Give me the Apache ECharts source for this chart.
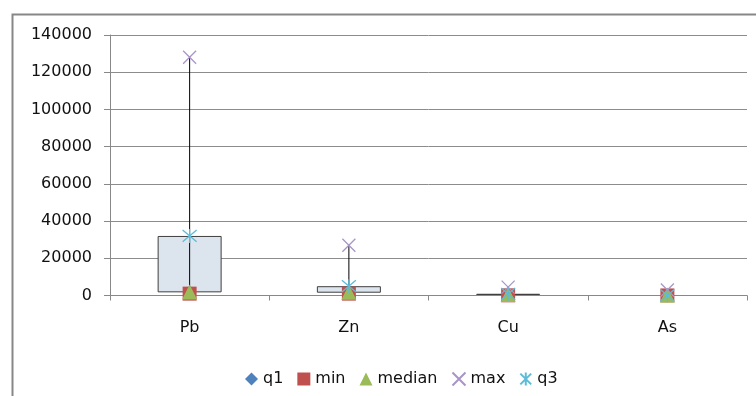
<!DOCTYPE html>
<html>
<head>
<meta charset="utf-8">
<script src="https://cdn.jsdelivr.net/npm/echarts@6/dist/echarts.min.js"></script>
<style>html,body{margin:0;padding:0;background:#fff;}#c{width:756px;height:396px;}</style>
</head>
<body>
<div id="c"></div>
<script>
var categories = ['Pb', 'Zn', 'Cu', 'As'];
var q1 = [1700, 1500, 300, 100];
var minV = [1000, 1000, 100, 50];
var median = [1900, 1800, 500, 300];
var maxV = [128000, 27000, 4500, 3000];
var q3 = [32000, 5000, 900, 100];
var yTicks = [0, 20000, 40000, 60000, 80000, 100000, 120000, 140000];

var FONT = 'DejaVu Sans';
var boxHeight = q3.map(function (v, i) { var h = v - q1[i]; return h > 0 ? h : '-'; });
var whisker = categories.map(function (c, i) { return [i, minV[i], maxV[i]]; });

var X_PATH = 'path://M0,0L10,10M10,0L0,10';
var STAR_PATH = 'path://M0,0L10,10M10,0L0,10M5,-1L5,11';

var chart = echarts.init(document.getElementById('c'), null, {renderer: 'canvas'});
chart.setOption({
  animation: false,
  backgroundColor: '#fff',
  graphic: [{
    type: 'rect', left: 10, top: 12, z: 100,
    shape: {x: 0, y: 0, width: 770, height: 420},
    style: {fill: 'none', stroke: '#878787', lineWidth: 2}
  }],
  grid: {left: 110, right: 9, top: 35, bottom: 100.5, containLabel: false},
  legend: {
    left: 240, top: 366,
    itemWidth: 13, itemHeight: 13, itemGap: 14,
    textStyle: {fontFamily: FONT, fontSize: 16, color: '#111'},
    data: ['q1', 'min', 'median', 'max', 'q3']
  },
  xAxis: {
    type: 'category', data: categories, boundaryGap: true,
    axisLine: {lineStyle: {color: '#888', width: 1}},
    axisTick: {show: true, length: 5, lineStyle: {color: '#888'}},
    axisLabel: {fontFamily: FONT, fontSize: 16, color: '#111', margin: 24}
  },
  yAxis: {
    type: 'value', min: 0, max: 140000, interval: 20000,
    axisLine: {show: true, lineStyle: {color: '#888', width: 1}},
    axisTick: {show: true, length: 6, lineStyle: {color: '#888'}},
    splitLine: {show: true, lineStyle: {color: '#8c8c8c', width: 1}},
    axisLabel: {fontFamily: FONT, fontSize: 16, color: '#111', margin: 18,
      formatter: function (v) { return yTicks.indexOf(v) >= 0 ? String(v) : ''; }}
  },
  series: [
    {name: 'base', type: 'bar', stack: 'box', barWidth: 64, data: q1,
      itemStyle: {color: 'rgba(0,0,0,0)'}, silent: true, z: 2},
    {name: 'box', type: 'bar', stack: 'box', barWidth: 64, data: boxHeight,
      itemStyle: {color: '#dce4ed', borderColor: '#3f3f3f', borderWidth: 1}, z: 2},
    {name: 'whisker', type: 'custom', data: whisker, z: 3,
      renderItem: function (params, api) {
        var lo = api.coord([api.value(0), api.value(1)]);
        var hi = api.coord([api.value(0), api.value(2)]);
        return {type: 'line', shape: {x1: lo[0], y1: lo[1], x2: hi[0], y2: hi[1]},
          style: {stroke: '#000', lineWidth: 1}};
      }},
    {name: 'q1', type: 'scatter', data: q1, symbol: 'diamond', symbolSize: 13, z: 4,
      itemStyle: {color: '#4f81bd', opacity: 1}},
    {name: 'min', type: 'scatter', data: minV, symbol: 'rect', symbolSize: 14, z: 5,
      itemStyle: {color: '#c0504d', opacity: 1}},
    {name: 'median', type: 'scatter', data: median, symbol: 'triangle', symbolSize: 15, z: 6,
      itemStyle: {color: '#9bbb59', opacity: 1}},
    {name: 'max', type: 'scatter', data: maxV, symbol: X_PATH, symbolSize: 13, z: 7,
      itemStyle: {color: 'rgba(0,0,0,0)', borderColor: '#a995c8', borderWidth: 1.3, opacity: 1}},
    {name: 'q3', type: 'scatter', data: q3, symbol: STAR_PATH, symbolSize: 14, z: 8,
      itemStyle: {color: 'rgba(0,0,0,0)', borderColor: '#5cbcd8', borderWidth: 1.3, opacity: 1}}
  ]
});
</script>
</body>
</html>
